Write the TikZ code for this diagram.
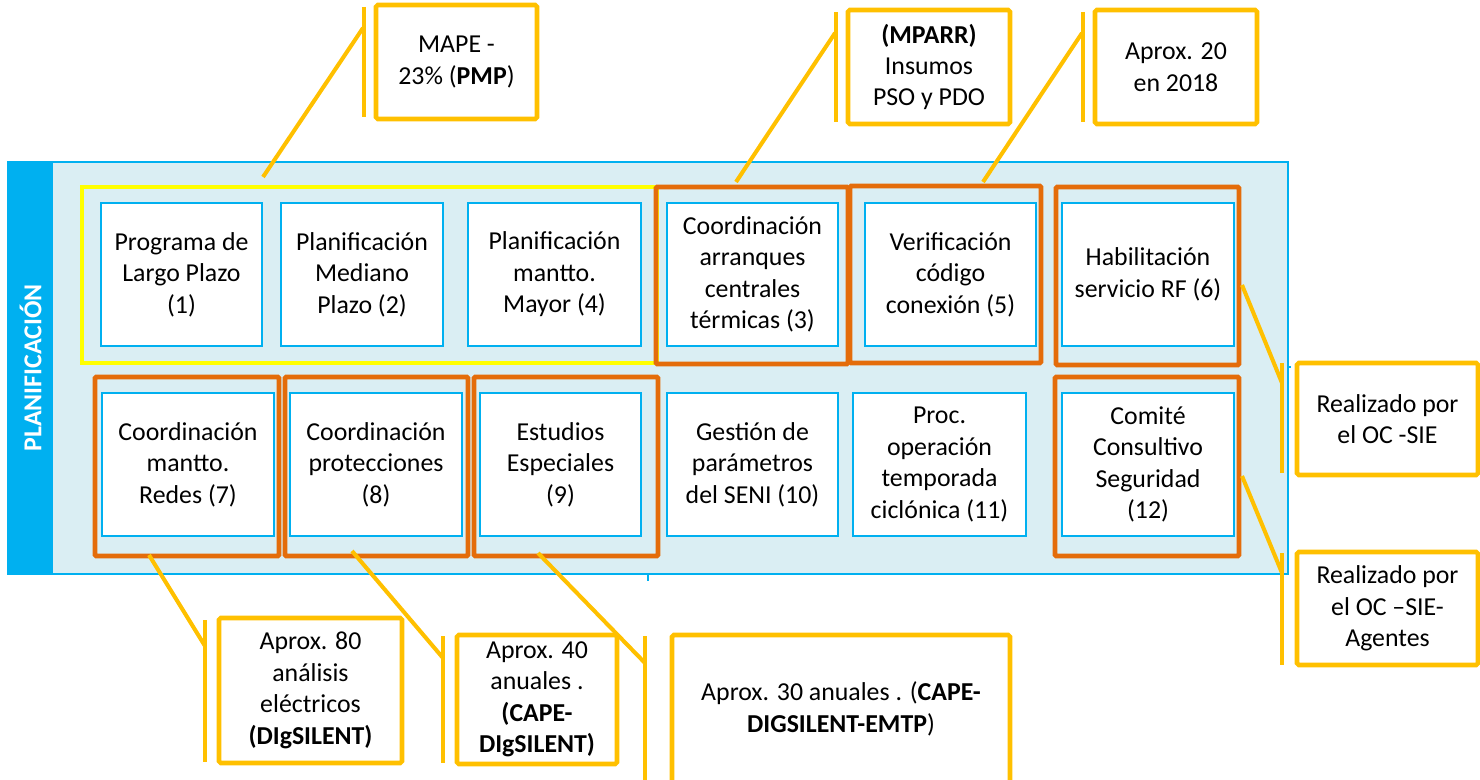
\documentclass[tikz,border=0pt]{standalone}
\usepackage{fontspec}
\setmainfont{Carlito}
\usetikzlibrary{calc}
\definecolor{panelfill}{HTML}{DAEEF3}
\definecolor{skyblue}{HTML}{00B0F0}
\definecolor{frameorange}{HTML}{E46C0A}
\definecolor{calloutgold}{HTML}{FFC000}
\definecolor{hiyellow}{HTML}{FFFF00}
\newcommand\pxu{0.02cm}
\begin{document}
\begin{tikzpicture}[x=0.02cm,y=-0.02cm,
  every node/.style={font=\fontsize{14.7}{17.9}\selectfont},
  task/.style={draw=skyblue, line width=1.1pt, fill=white, align=center, inner sep=0pt, minimum height=143*\pxu},
  frameO/.style={draw=frameorange, line width=2.8pt, inner sep=0pt, rounded corners=0.8pt},
  frameY/.style={draw=hiyellow, line width=2.3pt, inner sep=0pt},
  callout/.style={draw=calloutgold, line width=2.6pt, fill=white, align=center, inner sep=0pt, rounded corners=1pt},
  accent/.style={draw=calloutgold, line width=2.3pt},
]
\useasboundingbox (0,0) rectangle (1480,780);

% panel
\node[draw=skyblue, line width=0.9pt, fill=panelfill, inner sep=0pt,
      minimum width=1280*\pxu, minimum height=412*\pxu] (panel) at (648,368) {};
\node[fill=skyblue, inner sep=0pt, minimum width=45*\pxu, minimum height=411*\pxu] (bar) at (30.5,368) {};
\node[rotate=90, text=white, font=\fontsize{14.7}{17.9}\selectfont\bfseries] (bartext) at (bar.center) {PLANIFICACIÓN};
\draw[skyblue, line width=0.8pt] (648,574) -- (648,581);
\draw[skyblue, line width=0.8pt] (1288,367) -- (1291,367);

% highlight frames
\node[frameY, minimum width=575*\pxu, minimum height=176*\pxu] (yel) at (369.5,275) {};
\node[frameO, minimum width=192*\pxu, minimum height=177*\pxu] (o3) at (752,275.5) {};
\node[frameO, minimum width=191*\pxu, minimum height=177*\pxu] (o5) at (945.5,274.5) {};
\node[frameO, minimum width=183*\pxu, minimum height=178*\pxu] (o6) at (1147.5,276) {};
\node[frameO, minimum width=184*\pxu, minimum height=179*\pxu] (o7) at (187,466.5) {};
\node[frameO, minimum width=183*\pxu, minimum height=179*\pxu] (o8) at (376.5,466.5) {};
\node[frameO, minimum width=184*\pxu, minimum height=179*\pxu] (o9) at (566,466.5) {};
\node[frameO, minimum width=184*\pxu, minimum height=179*\pxu] (o12) at (1147,466.5) {};

% tasks row 1
\node[task, minimum width=161*\pxu] (b1) at (181.5,274.5) {Programa de\\Largo Plazo\\(1)};
\node[task, minimum width=162*\pxu] (b2) at (362,274.5) {Planificación\\Mediano\\Plazo (2)};
\node[task, minimum width=173*\pxu] (b3) at (554.5,274.5) {Planificación\\mantto.\\Mayor (4)};
\node[task, minimum width=171*\pxu] (b4) at (752.5,274.5) {Coordinación\\arranques\\centrales\\térmicas (3)};
\node[task, minimum width=171*\pxu] (b5) at (950.5,274.5) {Verificación\\código\\conexión (5)};
\node[task, minimum width=172*\pxu] (b6) at (1148,274.5) {Habilitación\\servicio RF (6)};
% tasks row 2
\node[task, minimum width=172*\pxu] (b7) at (188,464.5) {Coordinación\\mantto.\\Redes (7)};
\node[task, minimum width=172*\pxu] (b8) at (376,464.5) {Coordinación\\protecciones\\(8)};
\node[task, minimum width=161*\pxu] (b9) at (560.5,464.5) {Estudios\\Especiales\\(9)};
\node[task, minimum width=171*\pxu] (b10) at (752.5,464.5) {Gestión de\\parámetros\\del SENI (10)};
\node[task, minimum width=173*\pxu] (b11) at (939.5,464.5) {Proc.\\operación\\temporada\\ciclónica (11)};
\node[task, minimum width=172*\pxu] (b12) at (1148,464.5) {Comité\\Consultivo\\Seguridad\\(12)};

% callouts top
\node[callout, minimum width=161*\pxu, minimum height=114*\pxu] (cA) at (456.5,62) {MAPE -\\23\% (\textbf{PMP})};
\node[callout, minimum width=162*\pxu, minimum height=114*\pxu] (cB) at (929,67) {\textbf{(MPARR)}\\Insumos\\PSO y PDO};
\node[callout, minimum width=162*\pxu, minimum height=114*\pxu] (cC) at (1176,67) {Aprox. 20\\en 2018};
% callouts right
\node[callout, minimum width=181*\pxu, minimum height=112*\pxu] (cD) at (1387.5,419) {Realizado por\\el OC -SIE};
\node[callout, minimum width=181*\pxu, minimum height=113*\pxu] (cE) at (1387.5,608.5) {Realizado por\\el OC –SIE-\\Agentes};
% callouts bottom
\node[callout, minimum width=183*\pxu, minimum height=145*\pxu] (cF) at (310.5,690.5) {Aprox. 80\\análisis\\eléctricos\\\textbf{(DIgSILENT)}};
\node[callout, minimum width=160*\pxu, minimum height=129*\pxu] (cG) at (537,699.5) {Aprox. 40\\anuales .\\\textbf{(CAPE-}\\\textbf{DIgSILENT)}};
\node[callout, minimum width=338*\pxu, minimum height=148*\pxu] (cH) at (841,709) {Aprox. 30 anuales . (\textbf{CAPE-}\\\textbf{DIGSILENT-EMTP})};

% accent bars
\draw[accent] (364,7) -- (364,117);
\draw[accent] (836,12) -- (836,122);
\draw[accent] (1083,12) -- (1083,122);
\draw[accent] (1282,363) -- (1282,473);
\draw[accent] (1282,553) -- (1282,665);
\draw[accent] (205,620) -- (205,762);
\draw[accent] (443,636) -- (443,763);
\draw[accent] (645,636) -- (645,785);

% connector ends
\coordinate (tA) at (263,177);  \coordinate (jA) at (363,28);
\coordinate (tB) at (736,182);  \coordinate (jB) at (835,33);
\coordinate (tC) at (983,182);  \coordinate (jC) at (1082,33);
\coordinate (tD) at (1242,285); \coordinate (jD) at (1282,383);
\coordinate (tE) at (1242,476); \coordinate (jE) at (1282,573);
\coordinate (tF) at (149,555);  \coordinate (jF) at (205,646);
\coordinate (tG) at (352,551);  \coordinate (jG) at (443,658);
\coordinate (tH) at (538,553);  \coordinate (jH) at (645,663);

\draw[accent] (tA) -- (jA);
\draw[accent] (tB) -- (jB);
\draw[accent] (tC) -- (jC);
\draw[accent] (tD) -- (jD);
\draw[accent] (tE) -- (jE);
\draw[accent] (tF) -- (jF);
\draw[accent] (tG) -- (jG);
\draw[accent] (tH) -- (jH);
\end{tikzpicture}
\end{document}
